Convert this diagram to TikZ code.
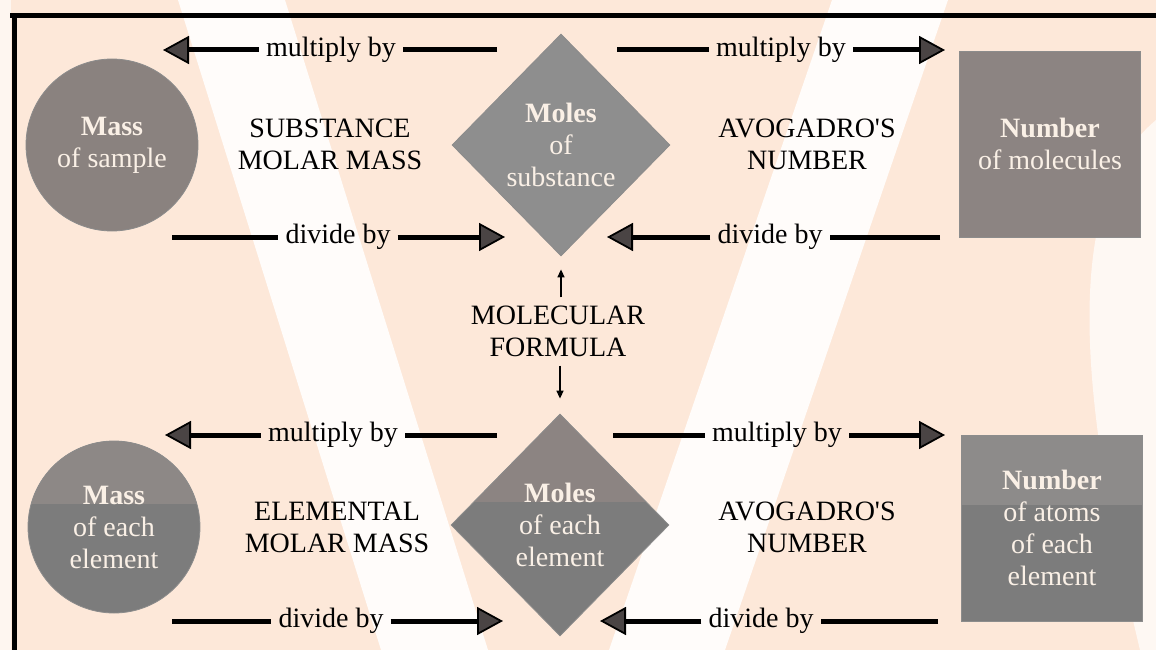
\documentclass[tikz,border=0pt]{standalone}
\usepackage{fontspec}
\newfontfamily\lib{Liberation Serif}
\usetikzlibrary{shapes.geometric,arrows.meta}
\definecolor{bg}{HTML}{FDE8D9}
\definecolor{band}{HTML}{FFFCFA}
\definecolor{cA}{HTML}{8A827F}
\definecolor{dA}{HTML}{8E8E8E}
\definecolor{sA}{HTML}{8C8482}
\definecolor{cB}{HTML}{7C7C7C}
\definecolor{dB}{HTML}{7C7C7C}
\definecolor{sB}{HTML}{7C7C7C}
\definecolor{cBt}{HTML}{8D8886}
\definecolor{dBt}{HTML}{8C8482}
\definecolor{sBt}{HTML}{8D8B8A}
\definecolor{txtc}{HTML}{FAF0E6}
\definecolor{tipgray}{HTML}{4A4444}
\tikzset{
  lbl/.style={font=\lib\fontsize{28}{32}\selectfont, align=center, inner sep=0pt, text=black},
  alab/.style={font=\lib\fontsize{28}{32}\selectfont, inner ysep=0pt, inner xsep=7pt, text=black},
  shp/.style={font=\lib\fontsize{28}{32}\selectfont, align=center, inner sep=0pt, text=txtc, draw=black!45, line width=0.8pt},
  circ/.style={shp, circle, minimum size=172pt},
  dia/.style={shp, diamond, minimum width=218pt, minimum height=222pt},
  sqr/.style={shp, rectangle, minimum width=181pt, minimum height=186pt},
  toppart/.style={path picture={\fill[#1] (path picture bounding box.north west) rectangle ([yshift=23pt]path picture bounding box.east);}},
  conn/.style={line width=5pt},
  arr/.style={line width=5pt, -{Triangle[length=26pt,width=28pt,line width=1.8pt,fill=tipgray]}},
  sarr/.style={line width=1.4pt, -{Triangle[length=8pt,width=7pt]}},
  frame/.style={line width=5pt}
}
\begin{document}
\begin{tikzpicture}[x=1pt,y=-1pt]
\useasboundingbox (0,0) rectangle (1156,650);
% background with watermark bands
\fill[bg] (0,0) rectangle (1156,650);
\fill[band] (178,0) -- (285,0) -- (488,650) -- (381,650) -- cycle;
\fill[band] (832,0) -- (948,0) -- (725,650) -- (609,650) -- cycle;
\fill[band, opacity=0.8] (1156,120) .. controls (1060,200) and (1080,400) .. (1140,650) -- (1156,650) -- cycle;
\fill[band, opacity=0.7] (0,0) rectangle (11,650);
% frame
\draw[frame] (10,16) -- (1156,16);
\draw[frame] (14,14) -- (14,650);
% main nodes
\node[circ, fill=cA] (ms) at (112,145) {\textbf{Mass}\\of sample};
\node[dia, fill=dA] (mol) at (561,145) {\textbf{Moles}\\of\\substance};
\node[sqr, fill=sA] (nm) at (1050,144) {\textbf{Number}\\of molecules};
\node[circ, fill=cB, toppart=cBt] (me) at (114,527) {\textbf{Mass}\\of each\\element};
\node[dia, fill=dB, toppart=dBt] (mole) at (560,525) {\textbf{Moles}\\of each\\element};
\node[sqr, fill=sB, toppart=sBt] (na) at (1052,528) {\textbf{Number}\\of atoms\\of each\\element};
% text labels
\node[lbl] (sm) at (330,144) {SUBSTANCE\\MOLAR MASS};
\node[lbl] (av1) at (807,144) {AVOGADRO'S\\NUMBER};
\node[lbl] (em) at (337,527) {ELEMENTAL\\MOLAR MASS};
\node[lbl] (av2) at (807,527) {AVOGADRO'S\\NUMBER};
\node[lbl] (mf) at (558,331) {MOLECULAR\\FORMULA};
% molecular formula arrows
\draw[sarr, shorten <=8pt, shorten >=13pt] (mf.north -| mol.south) -- (mol.south);
\draw[sarr, shorten <=9pt, shorten >=15pt] (mf.south -| mole.north) -- (mole.north);
% arrow end coordinates
\coordinate (a1s) at (497,50);  \coordinate (a1e) at (163,50);
\coordinate (a2s) at (617,50);  \coordinate (a2e) at (945,50);
\coordinate (a3s) at (172,237); \coordinate (a3e) at (505,237);
\coordinate (a4s) at (940,237); \coordinate (a4e) at (607,237);
\coordinate (b1s) at (497,435); \coordinate (b1e) at (165,435);
\coordinate (b2s) at (613,435); \coordinate (b2e) at (945,435);
\coordinate (b3s) at (172,621); \coordinate (b3e) at (503,621);
\coordinate (b4s) at (938,621); \coordinate (b4e) at (600,621);
% labels on arrows
\node[alab] (l1) at (331,50) {multiply by};
\node[alab] (l2) at (781,50) {multiply by};
\node[alab] (l3) at (338,237) {divide by};
\node[alab] (l4) at (770,237) {divide by};
\node[alab] (k1) at (333,435) {multiply by};
\node[alab] (k2) at (777,435) {multiply by};
\node[alab] (k3) at (331,621) {divide by};
\node[alab] (k4) at (761,621) {divide by};
% arrows
\draw[conn] (a1s) -- (l1.east); \draw[arr] (l1.west) -- (a1e);
\draw[conn] (a2s) -- (l2.west); \draw[arr] (l2.east) -- (a2e);
\draw[conn] (a3s) -- (l3.west); \draw[arr] (l3.east) -- (a3e);
\draw[conn] (a4s) -- (l4.east); \draw[arr] (l4.west) -- (a4e);
\draw[conn] (b1s) -- (k1.east); \draw[arr] (k1.west) -- (b1e);
\draw[conn] (b2s) -- (k2.west); \draw[arr] (k2.east) -- (b2e);
\draw[conn] (b3s) -- (k3.west); \draw[arr] (k3.east) -- (b3e);
\draw[conn] (b4s) -- (k4.east); \draw[arr] (k4.west) -- (b4e);
\end{tikzpicture}
\end{document}
